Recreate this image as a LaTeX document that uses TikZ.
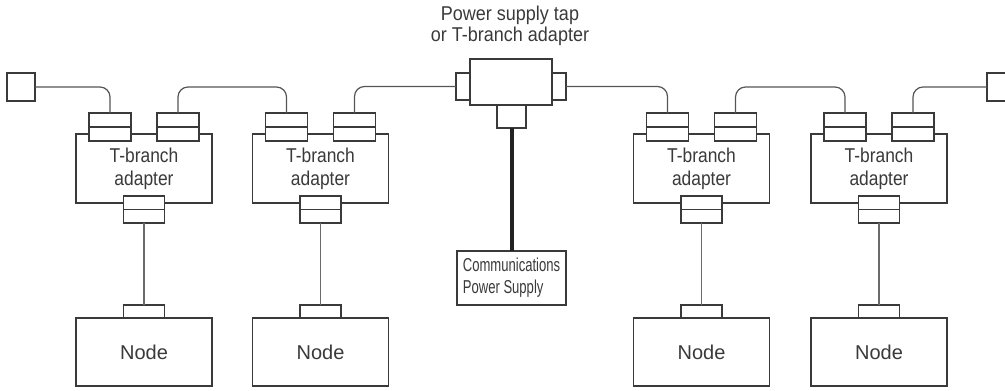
\documentclass[tikz,border=0pt]{standalone}
\usepackage{fontspec}
\newfontfamily\lab{Liberation Sans}
\newfontfamily\adlab[FakeStretch=0.87]{Liberation Sans}
\newfontfamily\tlab[FakeStretch=0.9]{Liberation Sans}
\newfontfamily\narrowlab[FakeStretch=0.70]{Liberation Sans}
\definecolor{lc}{HTML}{3A3A3A}
\definecolor{cc}{HTML}{555555}
\definecolor{vc}{HTML}{6A6A6A}
\definecolor{tc}{HTML}{3A3A3A}
\definecolor{thk}{HTML}{222222}
\begin{document}
\begin{tikzpicture}[x=0.75pt,y=-0.75pt,
  box/.style={draw=lc,line width=0.9pt,fill=white,inner sep=0pt,outer sep=0pt,
    text=tc,font=\lab\fontsize{15pt}{17.25pt}\selectfont,align=center},
  conn/.style={box},
  cable/.style={draw=cc,line width=0.9pt,rounded corners=7.5pt},
  drop/.style={draw=vc,line width=1.1pt},
  thickline/.style={draw=thk,line width=3pt},
  lbl/.style={text=tc,font=\tlab\fontsize{15pt}{15.75pt}\selectfont,align=center,inner sep=0pt}]
\useasboundingbox (0,0) rectangle (1005,390);
% title
\node[lbl] (title) at (510,26) {Power supply tap\\or T-branch adapter};
% terminal squares
\node[box,minimum width=28*0.75pt,minimum height=28*0.75pt] (sqL) at (21,87) {};
\node[box,minimum width=28*0.75pt,minimum height=28*0.75pt] (sqR) at (1001,87) {};
% adapters
\foreach \i/\c in {1/144,2/320.5,3/701.5,4/879}{
  \node[box,minimum width=136*0.75pt,minimum height=69*0.75pt,
    font=\adlab\fontsize{15pt}{17.25pt}\selectfont] (a\i) at (\c,168.5) {T-branch\\adapter};
  \node[conn,minimum width=42*0.75pt,minimum height=28*0.75pt] (a\i l) at (\c-34,127) {};
  \node[conn,minimum width=42*0.75pt,minimum height=28*0.75pt] (a\i r) at (\c+34,127) {};
  \node[conn,minimum width=41*0.75pt,minimum height=27*0.75pt] (a\i b) at (\c,209.5) {};
  \draw[lc,line width=0.9pt] (a\i l.west) -- (a\i l.east);
  \draw[lc,line width=0.9pt] (a\i r.west) -- (a\i r.east);
  \draw[lc,line width=0.9pt] (a\i b.west) -- (a\i b.east);
  \node[box,minimum width=136*0.75pt,minimum height=68*0.75pt] (n\i) at (\c,352) {Node};
  \node[conn,minimum width=41*0.75pt,minimum height=13*0.75pt] (n\i t) at (\c,311.5) {};
  \draw[drop] (a\i b.south) -- (n\i t.north);
}
% power supply tap
\node[box,minimum width=82*0.75pt,minimum height=46*0.75pt] (tap) at (511,82) {};
\node[conn,minimum width=14*0.75pt,minimum height=27*0.75pt] (tl) at (463,86.5) {};
\node[conn,minimum width=14*0.75pt,minimum height=27*0.75pt] (tr) at (559,86.5) {};
\node[conn,minimum width=29*0.75pt,minimum height=23*0.75pt] (tb) at (511.5,116.5) {};
\node[box,minimum width=109*0.75pt,minimum height=54*0.75pt,align=left,
  font=\narrowlab\fontsize{14pt}{16.5pt}\selectfont] (cps) at (511.5,278) {Communications\\Power Supply};
\draw[thickline] (tb.south) -- (cps.north);
% cables
\draw[cable] (sqL.east) -| (a1l.north);
\draw[cable] (a1r.north) -- ++(0,-26) -| (a2l.north);
\draw[cable] (a2r.north) |- (tl.west);
\draw[cable] (tr.east) -| (a3l.north);
\draw[cable] (a3r.north) -- ++(0,-26) -| (a4l.north);
\draw[cable] (a4r.north) |- (sqR.west);
\end{tikzpicture}
\end{document}
